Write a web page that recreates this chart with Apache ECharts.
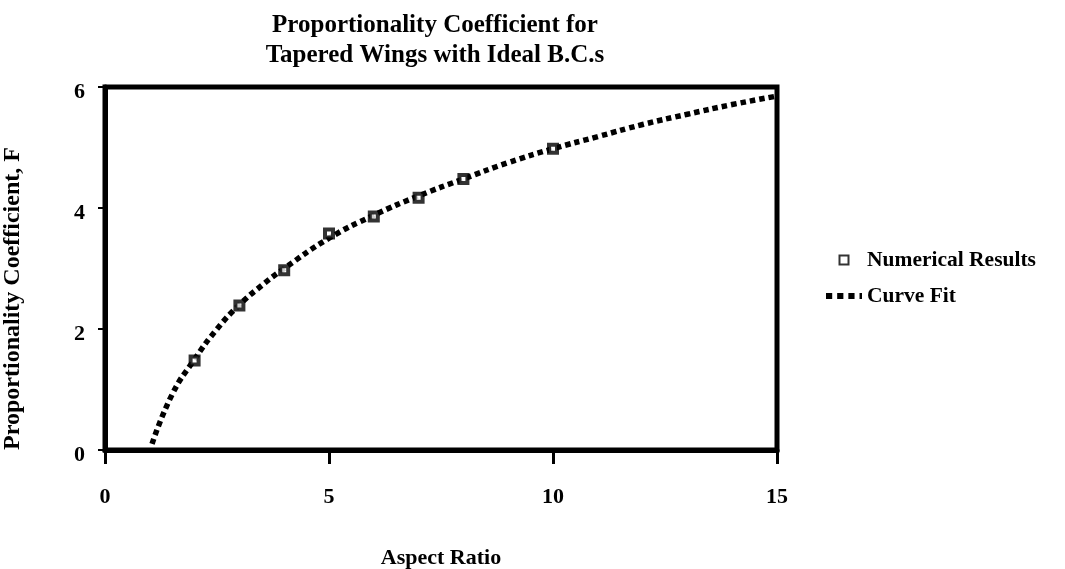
<!DOCTYPE html>
<html>
<head>
<meta charset="utf-8">
<script src="https://cdn.jsdelivr.net/npm/echarts@6/dist/echarts.min.js"></script>
<style>
  html, body { margin: 0; padding: 0; background: #fff; }
  #chart { width: 1065px; height: 569px; }
</style>
</head>
<body>
<div id="chart"></div>
<script>
// Numerical results: aspect ratio vs. proportionality coefficient F
const aspectRatios = [2, 3, 4, 5, 6, 7, 8, 10];
const numericalF = [1.48, 2.39, 2.97, 3.58, 3.86, 4.17, 4.48, 4.98];

// Curve fit, sampled along aspect ratio
const fitAspect = [1.05, 1.5, 2, 2.5, 3, 3.5, 4, 5, 6, 7, 8, 9, 10, 11, 12, 13, 14, 15];
const fitF = [0.1, 0.92, 1.5, 2.0, 2.4, 2.72, 3.0, 3.5, 3.88, 4.2, 4.48, 4.75, 4.98, 5.18, 5.38, 5.55, 5.71, 5.85];

const titleLines = ['Proportionality Coefficient for', 'Tapered Wings with Ideal B.C.s'];
const xName = 'Aspect Ratio';
const yName = 'Proportionality Coefficient, F';
const seriesNames = ['Numerical Results', 'Curve Fit'];

const font = '"Liberation Serif", "Times New Roman", serif';
const textBase = { fontFamily: font, fontWeight: 'bold', color: '#000' };
const chart = echarts.init(document.getElementById('chart'));

chart.setOption({
  animation: false,
  backgroundColor: '#fff',
  title: {
    text: titleLines.join('\n'),
    left: 430,
    textAlign: 'center',
    top: 6,
    textStyle: Object.assign({ fontSize: 25, lineHeight: 30 }, textBase)
  },
  legend: {
    orient: 'vertical',
    left: 821,
    top: 244,
    itemGap: 14,
    itemWidth: 36,
    itemHeight: 9,
    symbolKeepAspect: true,
    data: [
      { name: seriesNames[0], icon: 'path://M0,0H10V10H0Z' },
      { name: seriesNames[1], icon: 'path://M0,0H5V5H0Z M9,0H14V5H9Z M18,0H23V5H18Z M27,0H29V5H27Z', itemStyle: { borderWidth: 0 } }
    ],
    textStyle: Object.assign({ fontSize: 21.5 }, textBase)
  },
  grid: {
    left: 105,
    right: 288,
    top: 87,
    bottom: 119,
    outerBoundsMode: 'none',
    containLabel: false,
    show: true,
    borderColor: '#000',
    borderWidth: 5,
    backgroundColor: 'transparent'
  },
  xAxis: {
    type: 'value',
    min: 0,
    max: 15,
    interval: 5,
    name: xName,
    nameLocation: 'middle',
    nameGap: 97,
    nameTextStyle: Object.assign({ fontSize: 22 }, textBase),
    axisLine: { show: true, onZero: false, lineStyle: { color: '#000', width: 5 } },
    axisTick: { show: true, length: 14, lineStyle: { color: '#000', width: 3 } },
    axisLabel: Object.assign({ fontSize: 22, margin: 36 }, textBase),
    splitLine: { show: false }
  },
  yAxis: {
    type: 'value',
    min: 0,
    max: 6,
    interval: 2,
    name: yName,
    nameLocation: 'middle',
    nameGap: 80,
    nameTextStyle: Object.assign({ fontSize: 24, padding: [0, 60, 0, 0] }, textBase),
    axisLine: { show: true, lineStyle: { color: '#000', width: 5 } },
    axisTick: { show: true, length: 7, lineStyle: { color: '#000', width: 2 } },
    axisLabel: Object.assign({ fontSize: 22, margin: 20, verticalAlign: 'top', padding: [-6, 0, 0, 0] }, textBase),
    splitLine: { show: false }
  },
  series: [
    {
      name: seriesNames[1],
      type: 'line',
      data: fitAspect.map((x, i) => [x, fitF[i]]),
      smooth: true,
      showSymbol: false,
      symbol: 'none',
      z: 2,
      lineStyle: { color: '#000', width: 5.5, type: [5.5, 4], cap: 'butt' },
      itemStyle: { color: '#000' }
    },
    {
      name: seriesNames[0],
      type: 'scatter',
      data: aspectRatios.map((x, i) => [x, numericalF[i]]),
      symbol: 'rect',
      symbolSize: 8,
      z: 3,
      itemStyle: { color: '#fff', borderColor: '#000', borderWidth: 4 }
    }
  ]
});
</script>
</body>
</html>
